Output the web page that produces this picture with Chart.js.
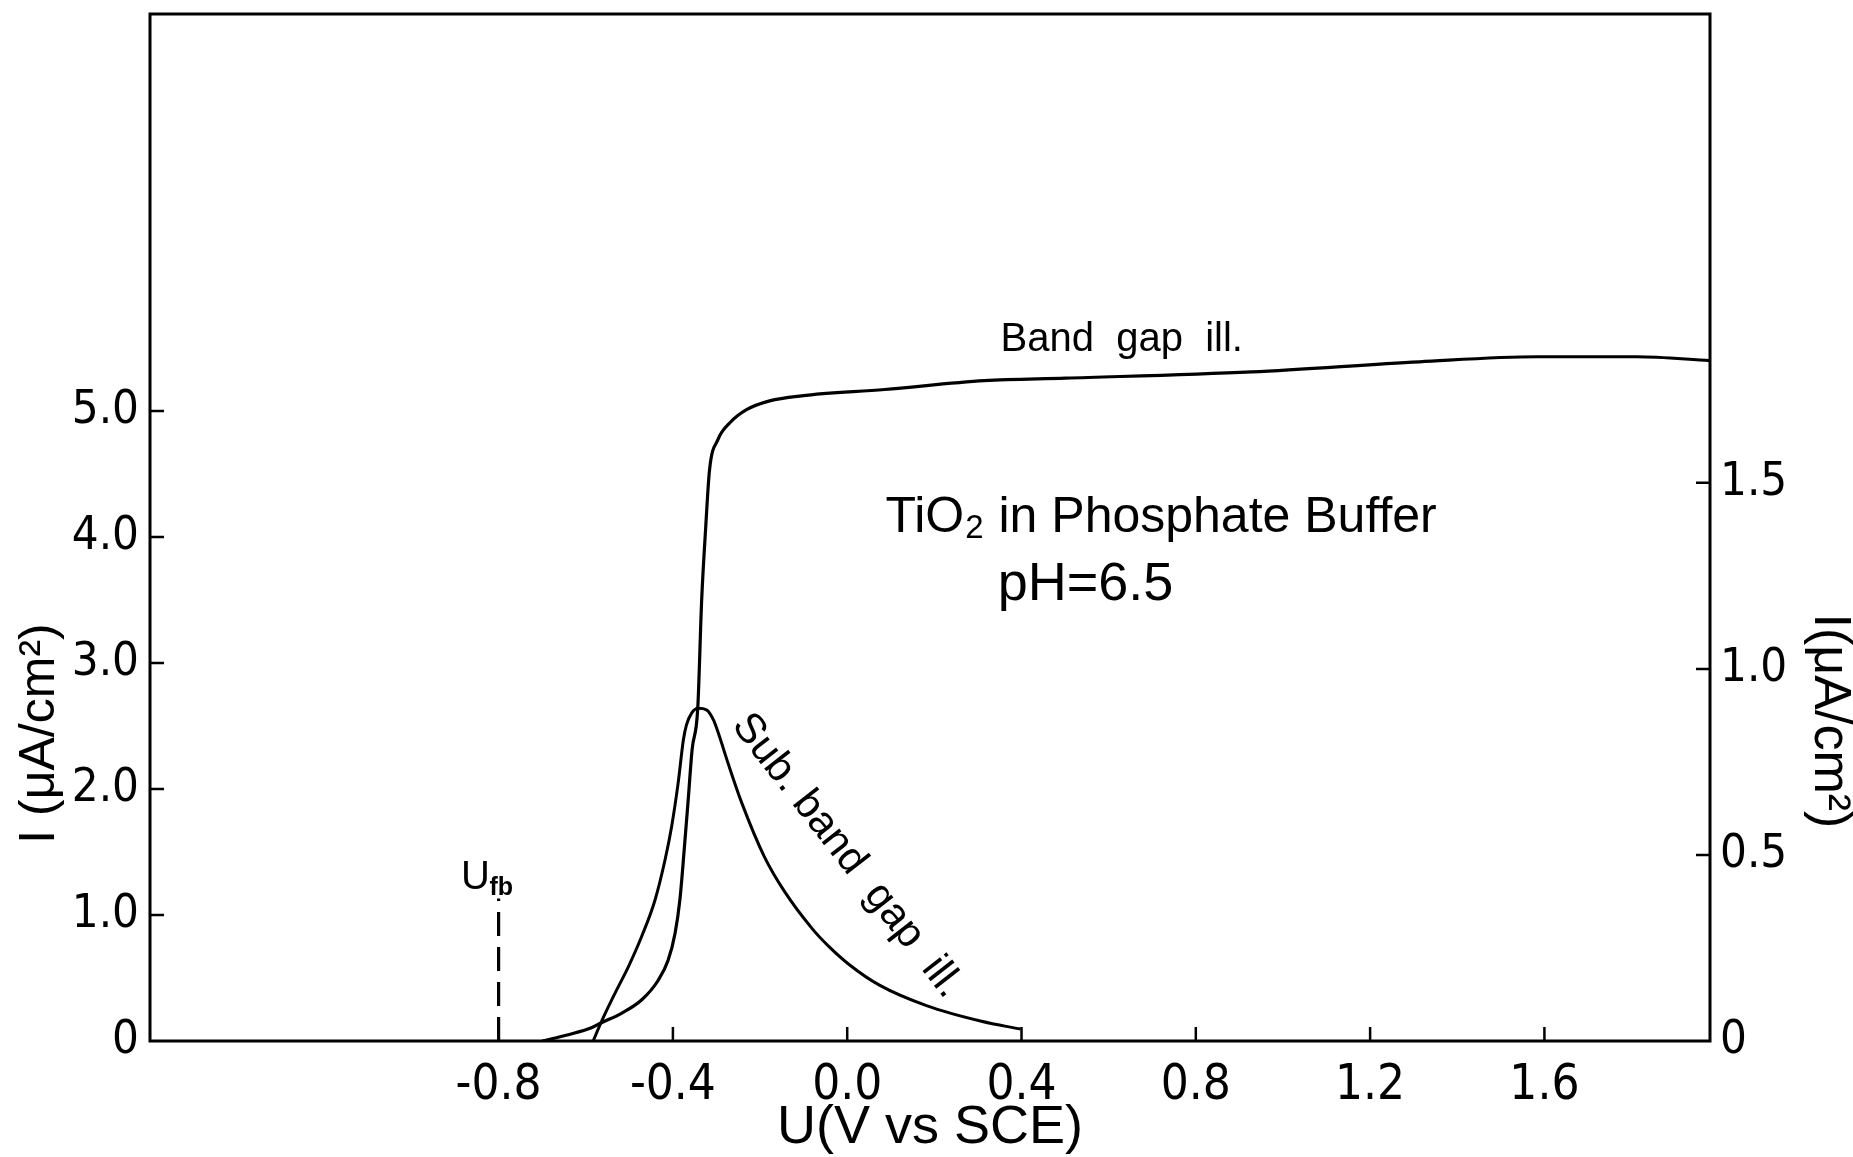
<!DOCTYPE html>
<html>
<head>
<meta charset="utf-8">
<title>TiO2 photocurrent vs potential</title>
<script src="https://cdn.jsdelivr.net/npm/chart.js@4.4.1/dist/chart.umd.min.js"></script>
<style>
  html, body { margin: 0; padding: 0; background: #fff; }
  canvas { display: block; }
</style>
</head>
<body>
<canvas id="ivChart" width="1853" height="1157"></canvas>
<script>
// band gap illumination: potential (V vs SCE) and current (left axis, uA/cm2)
var bandGapU = [-0.70, -0.640, -0.587, -0.564, -0.518, -0.472, -0.434, -0.411, -0.395, -0.384,
                -0.374, -0.365, -0.356, -0.343, -0.334, -0.325, -0.316, -0.297, -0.268, -0.231,
                -0.178, -0.105, 0.086, 0.315, 0.501, 0.928, 1.313, 1.584, 1.811, 1.98];
var bandGapI = [0.0, 0.05, 0.105, 0.145, 0.22, 0.325, 0.48, 0.64, 0.855, 1.12,
                1.52, 1.91, 2.31, 2.64, 3.50, 4.06, 4.53, 4.77, 4.91, 5.01,
                5.08, 5.12, 5.17, 5.24, 5.26, 5.31, 5.39, 5.43, 5.43, 5.40];

// sub band gap illumination (right axis, uA/cm2)
var subBandU = [-0.583, -0.564, -0.533, -0.502, -0.472, -0.441, -0.418, -0.403, -0.388, -0.376,
                -0.369, -0.357, -0.342, -0.323, -0.307, -0.295, -0.273, -0.242, -0.190, -0.144,
                -0.079, -0.043, 0.005, 0.074, 0.182, 0.308, 0.398];
var subBandI = [0.0, 0.052, 0.128, 0.20, 0.28, 0.379, 0.487, 0.576, 0.693, 0.809,
                0.849, 0.881, 0.894, 0.890, 0.863, 0.825, 0.745, 0.64, 0.495, 0.402,
                0.30, 0.255, 0.205, 0.15, 0.095, 0.053, 0.032];

// flat band potential marker
var flatBandU = [-0.8, -0.8];
var flatBandI = [0, 1.13];

var uTicks = [-0.8, -0.4, 0.0, 0.4, 0.8, 1.2, 1.6];
var leftTicks = [0, 1, 2, 3, 4, 5];
var rightTicks = [0, 0.5, 1.0, 1.5];

var FONT = "'Liberation Sans', Arial, sans-serif";
var NARROW = "'Liberation Sans Narrow', 'DejaVu Sans Condensed', 'Liberation Sans', sans-serif";

function pts(xs, ys) {
  return xs.map(function(x, i) { return { x: x, y: ys[i] }; });
}

function putText(ctx, text, x, y, size, align, angle) {
  ctx.save();
  ctx.translate(x, y);
  ctx.rotate(angle || 0);
  ctx.font = size + 'px ' + FONT;
  ctx.textAlign = align || 'center';
  ctx.textBaseline = 'middle';
  ctx.fillText(text, 0, 0);
  ctx.restore();
}

// vertical axes keep no extra room above/below for their labels
function tightVertical(width) {
  return function(scale) {
    scale.width = width;
    scale.paddingTop = 0;
    scale.paddingBottom = 0;
  };
}

// frame, inward tick marks, axis titles on the sides and the notes inside the plot
var inkNotes = {
  id: 'inkNotes',
  afterDraw: function(chart) {
    var ctx = chart.ctx, a = chart.chartArea;
    var sx = chart.scales.x, sy = chart.scales.y, sy2 = chart.scales.y2;
    ctx.save();
    ctx.strokeStyle = '#000';
    ctx.fillStyle = '#000';
    ctx.lineWidth = 3;
    ctx.strokeRect(a.left, a.top, a.right - a.left, a.bottom - a.top);

    ctx.beginPath();
    uTicks.forEach(function(v) {
      var p = sx.getPixelForValue(v);
      ctx.moveTo(p, a.bottom); ctx.lineTo(p, a.bottom - 14);
    });
    leftTicks.slice(1).forEach(function(v) {
      var p = sy.getPixelForValue(v);
      ctx.moveTo(a.left, p); ctx.lineTo(a.left + 14, p);
    });
    rightTicks.slice(1).forEach(function(v) {
      var p = sy2.getPixelForValue(v);
      ctx.moveTo(a.right, p); ctx.lineTo(a.right - 14, p);
    });
    ctx.lineWidth = 2.5;
    ctx.stroke();

    // side titles
    putText(ctx, 'I (\u03bcA/cm\u00b2)', sy.left + 40, sy.getPixelForValue(2.44), 50, 'center', -Math.PI / 2);
    putText(ctx, 'I(\u03bcA/cm\u00b2)', sy2.right - 24, sy2.getPixelForValue(0.86), 52, 'center', Math.PI / 2);

    // curve notes
    putText(ctx, 'Band  gap  ill.', sx.getPixelForValue(0.63), sy.getPixelForValue(5.56), 40, 'center');
    putText(ctx, 'Sub. band  gap  ill.', sx.getPixelForValue(0.0), sy.getPixelForValue(1.47), 42, 'center', 52 * Math.PI / 180);

    // sample description with subscript 2
    var tx = sx.getPixelForValue(0.088), ty = sy.getPixelForValue(4.15);
    ctx.font = '50px ' + FONT;
    ctx.textAlign = 'left';
    ctx.textBaseline = 'middle';
    ctx.fillText('TiO', tx, ty);
    var w1 = ctx.measureText('TiO').width;
    ctx.font = '33px ' + FONT;
    ctx.fillText('2', tx + w1 + 1, ty + 11);
    var w2 = ctx.measureText('2').width;
    ctx.font = '50px ' + FONT;
    ctx.fillText(' in Phosphate Buffer', tx + w1 + w2 + 2, ty);
    putText(ctx, 'pH=6.5', sx.getPixelForValue(0.547), sy.getPixelForValue(3.62), 54, 'center');

    // flat band label
    var fx = sx.getPixelForValue(-0.853), fy = sy.getPixelForValue(1.29);
    putText(ctx, 'U', fx, fy, 40, 'center');
    ctx.font = 'bold 25px ' + FONT;
    ctx.textAlign = 'left';
    ctx.fillText('fb', fx + 14, fy + 10);
    ctx.restore();
  }
};

var tickFont = { family: NARROW, size: 47 };

new Chart(document.getElementById('ivChart'), {
  type: 'line',
  data: {
    datasets: [{
      label: 'Band gap ill.',
      data: pts(bandGapU, bandGapI),
      yAxisID: 'y',
      borderColor: '#000',
      borderWidth: 3.2,
      pointRadius: 0,
      fill: false,
      cubicInterpolationMode: 'monotone'
    }, {
      label: 'Sub. band gap ill.',
      data: pts(subBandU, subBandI),
      yAxisID: 'y2',
      borderColor: '#000',
      borderWidth: 3,
      pointRadius: 0,
      fill: false,
      cubicInterpolationMode: 'monotone'
    }, {
      label: 'Ufb',
      data: pts(flatBandU, flatBandI),
      yAxisID: 'y',
      borderColor: '#000',
      borderWidth: 3.2,
      borderDash: [24, 11],
      pointRadius: 0,
      fill: false,
      tension: 0
    }]
  },
  options: {
    responsive: false,
    devicePixelRatio: 1,
    animation: false,
    layout: { padding: { top: 14, left: 0, right: 0, bottom: 0 } },
    plugins: {
      legend: { display: false },
      tooltip: { enabled: false }
    },
    scales: {
      x: {
        type: 'linear',
        position: 'bottom',
        min: -1.6,
        max: 1.98,
        afterBuildTicks: function(scale) {
          scale.ticks = uTicks.map(function(v) { return { value: v }; });
        },
        afterFit: function(scale) { scale.height = 116; },
        grid: { display: false },
        border: { display: false },
        ticks: {
          color: '#000',
          font: { family: NARROW, size: 49 },
          padding: 8,
          maxRotation: 0,
          callback: function(v) { return v.toFixed(1); }
        },
        title: {
          display: true,
          text: 'U(V vs SCE)',
          color: '#000',
          font: { family: FONT, size: 54, lineHeight: 1 },
          padding: { top: 0, bottom: 2 }
        }
      },
      y: {
        type: 'linear',
        position: 'left',
        min: 0,
        max: 8.15,
        afterBuildTicks: function(scale) {
          scale.ticks = leftTicks.map(function(v) { return { value: v }; });
        },
        afterFit: tightVertical(150),
        grid: { display: false },
        border: { display: false },
        ticks: {
          color: '#000',
          font: tickFont,
          padding: 3,
          callback: function(v) { return v === 0 ? '0' : v.toFixed(1); }
        }
      },
      y2: {
        type: 'linear',
        position: 'right',
        min: 0,
        max: 2.76,
        afterBuildTicks: function(scale) {
          scale.ticks = rightTicks.map(function(v) { return { value: v }; });
        },
        afterFit: tightVertical(143),
        grid: { display: false },
        border: { display: false },
        ticks: {
          color: '#000',
          font: tickFont,
          padding: 2,
          callback: function(v) { return v === 0 ? '0' : v.toFixed(1); }
        }
      }
    }
  },
  plugins: [inkNotes]
});
</script>
</body>
</html>
